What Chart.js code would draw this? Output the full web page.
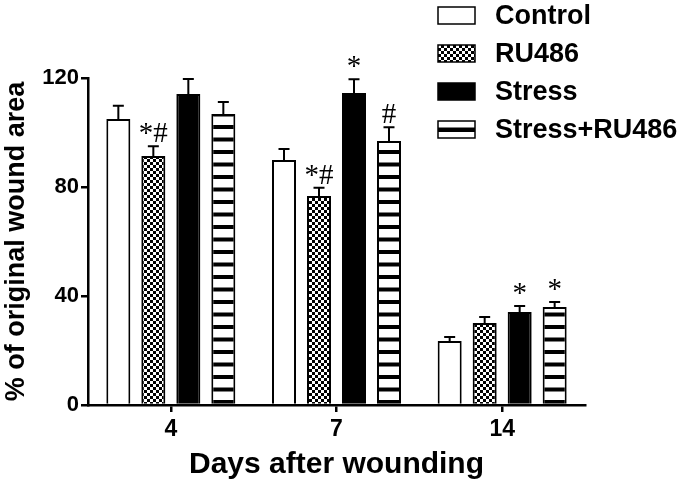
<!DOCTYPE html>
<html>
<head>
<meta charset="utf-8">
<script src="https://cdn.jsdelivr.net/npm/chart.js@4.4.1/dist/chart.umd.min.js"></script>
<style>
  html, body { margin: 0; padding: 0; background: #fff; }
  #caixa { width: 680px; height: 493px; }
</style>
</head>
<body>
<div id="caixa"><canvas id="grafico_ferida" width="680" height="493"></canvas></div>
<script>
// Dados do gráfico:
const dias = ['4', '7', '14']
const grupos = ['Control', 'RU486', 'Stress', 'Stress+RU486']
const val_control = [105, 89.9, 23.5]
const val_ru486 = [91.4, 76.7, 30.1]
const val_stress = [114.1, 114.5, 34.1]
const val_stress_ru = [106.8, 96.9, 36]
const erro_control = [4.8, 4, 1.5]
const erro_ru486 = [3.6, 3, 2.2]
const erro_stress = [5.5, 5, 2.2]
const erro_stress_ru = [4.4, 5, 1.8]
const marca_control = ['', '', '']
const marca_ru486 = ['*#', '*#', '']
const marca_stress = ['', '*', '*']
const marca_stress_ru = ['', '#', '*']
const ticks_y = [0, 40, 80, 120]

const preto = '#000'
const branco = '#fff'
const fonte = '"Liberation Sans", Arial, sans-serif'

// Padrões de preenchimento:
function padraoXadrez() {
  const c = document.createElement('canvas')
  c.width = 6; c.height = 6
  const g = c.getContext('2d')
  g.fillStyle = branco; g.fillRect(0, 0, 6, 6)
  g.fillStyle = preto
  g.fillRect(0, 0, 3, 3)
  g.fillRect(3, 3, 3, 3)
  return g.createPattern(c, 'repeat')
}
function padraoListras() {
  const c = document.createElement('canvas')
  c.width = 8; c.height = 25
  const g = c.getContext('2d')
  g.fillStyle = branco; g.fillRect(0, 0, 8, 25)
  g.fillStyle = preto
  g.fillRect(0, 0, 8, 4)
  g.fillRect(0, 12.5, 8, 4)
  return g.createPattern(c, 'repeat')
}
const xadrez = padraoXadrez()
const listras = padraoListras()

// Barras de erro e marcas de significância:
const pluginErro = {
  id: 'erro',
  afterDatasetsDraw(chart) {
    const ctx = chart.ctx
    const y = chart.scales.y
    chart.data.datasets.forEach((ds, i) => {
      const meta = chart.getDatasetMeta(i)
      meta.data.forEach((bar, j) => {
        const topo = y.getPixelForValue(ds.data[j] + ds.erro[j])
        ctx.save()
        ctx.strokeStyle = preto
        ctx.lineWidth = 2
        ctx.beginPath()
        ctx.moveTo(bar.x, bar.y)
        ctx.lineTo(bar.x, topo)
        ctx.moveTo(bar.x - 5.5, topo)
        ctx.lineTo(bar.x + 5.5, topo)
        ctx.stroke()
        if (ds.marca[j]) {
          ctx.fillStyle = preto
          ctx.font = '29px "Liberation Serif", serif'
          ctx.textAlign = 'center'
          ctx.textBaseline = 'alphabetic'
          ctx.fillText(ds.marca[j], bar.x, topo - 4)
        }
        ctx.restore()
      })
    })
  }
}

// Legenda no canto superior direito:
const pluginLegenda = {
  id: 'legenda',
  afterDraw(chart) {
    const ctx = chart.ctx
    chart.data.datasets.forEach((ds, i) => {
      const yc = 15.5 + i * 38
      const bx = 438, bw = 37, bh = 17
      ctx.save()
      ctx.fillStyle = ds.backgroundColor
      ctx.fillRect(bx, yc - bh / 2, bw, bh)
      if (ds.label === 'Stress+RU486') {
        ctx.fillStyle = branco
        ctx.fillRect(bx, yc - bh / 2, bw, bh)
        ctx.fillStyle = preto
        ctx.fillRect(bx, yc - 2, bw, 4.5)
      }
      ctx.strokeStyle = preto
      ctx.lineWidth = 1.5
      ctx.strokeRect(bx, yc - bh / 2, bw, bh)
      ctx.fillStyle = preto
      ctx.font = 'bold 27px ' + fonte
      ctx.textAlign = 'left'
      ctx.textBaseline = 'middle'
      ctx.fillText(ds.label, 495, yc + 1)
      ctx.restore()
    })
  }
}

function serie(nome, dados, erro, marca, cor) {
  return {
    label: nome,
    data: dados,
    erro: erro,
    marca: marca,
    backgroundColor: cor,
    borderColor: preto,
    borderWidth: 2,
    categoryPercentage: 0.845,
    barPercentage: 0.686
  }
}

const ctx_ferida = document.getElementById('grafico_ferida').getContext('2d')
new Chart(ctx_ferida, {
  type: 'bar',
  data: {
    labels: dias,
    datasets: [
      serie(grupos[0], val_control, erro_control, marca_control, branco),
      serie(grupos[1], val_ru486, erro_ru486, marca_ru486, xadrez),
      serie(grupos[2], val_stress, erro_stress, marca_stress, preto),
      serie(grupos[3], val_stress_ru, erro_stress_ru, marca_stress_ru, listras)
    ]
  },
  options: {
    responsive: false,
    animation: false,
    layout: { padding: { top: 78, right: 95, left: 0, bottom: 0 } },
    scales: {
      x: {
        afterFit: (s) => { s.height = 88 },
        grid: { offset: false, drawOnChartArea: false, drawTicks: true, tickLength: 7, color: preto, lineWidth: 2.5 },
        border: { display: true, color: preto, width: 2.5 },
        ticks: { color: preto, padding: 4, font: { family: fonte, size: 23, weight: 'bold' } },
        title: {
          display: true,
          text: 'Days after wounding',
          color: preto,
          padding: { top: 0, bottom: 10 },
          font: { family: fonte, size: 30, weight: 'bold' }
        }
      },
      y: {
        min: 0,
        max: 120,
        afterFit: (s) => { s.width = 88 },
        afterBuildTicks: (s) => { s.ticks = ticks_y.map(v => ({ value: v })) },
        grid: { drawOnChartArea: false, drawTicks: true, tickLength: 7, color: preto, lineWidth: 2.5 },
        border: { display: true, color: preto, width: 2.5 },
        ticks: { color: preto, padding: 2, font: { family: fonte, size: 22, weight: 'bold' } },
        title: {
          display: true,
          text: '% of original wound area',
          color: preto,
          padding: 0,
          font: { family: fonte, size: 27, weight: 'bold' }
        }
      }
    },
    plugins: {
      legend: { display: false },
      tooltip: { enabled: false }
    }
  },
  plugins: [pluginErro, pluginLegenda]
})
</script>
</body>
</html>
